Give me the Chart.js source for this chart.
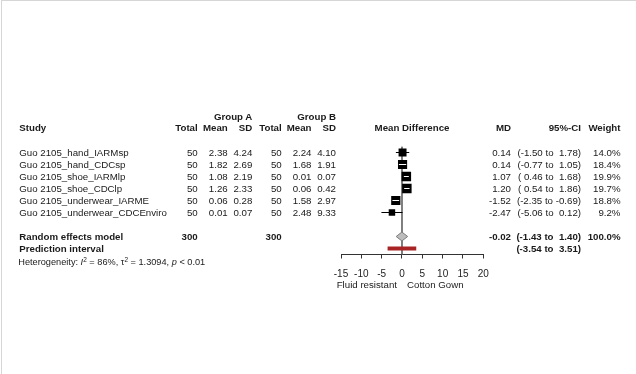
<!DOCTYPE html>
<html>
<head>
<meta charset="utf-8">
<script src="https://cdn.jsdelivr.net/npm/chart.js@4"></script>
<style>
  body { margin: 0; background: #fff; }
  #wrap { position: relative; width: 636px; height: 374px; overflow: hidden;
          font-family: "Liberation Sans", Arial, sans-serif; color: #1a1a1a; }
  #frame { position: absolute; left: 1px; top: 0; width: 635px; height: 374px;
           border-top: 1px solid #d6d6d6; border-left: 1px solid #d6d6d6; box-sizing: border-box; }
  canvas { position: absolute; left: 0; top: 0; }
  .t { position: absolute; font-size: 9.7px; line-height: 12px; white-space: pre; }
  .b { font-weight: bold; }
  .het { font-size: 9.2px; }
  sup { font-size: 6.5px; vertical-align: 3px; line-height: 0; }
</style>
</head>
<body>
<div id="wrap">
  <div id="frame"></div>
  <canvas id="forest" width="636" height="374"></canvas>
</div>
<script>
const studies = [
  "Guo 2105_hand_IARMsp",
  "Guo 2105_hand_CDCsp",
  "Guo 2105_shoe_IARMlp",
  "Guo 2105_shoe_CDClp",
  "Guo 2105_underwear_IARME",
  "Guo 2105_underwear_CDCEnviro"
];
const totalA = [50, 50, 50, 50, 50, 50];
const meanA = [2.38, 1.82, 1.08, 1.26, 0.06, 0.01];
const sdA = [4.24, 2.69, 2.19, 2.33, 0.28, 0.07];
const totalB = [50, 50, 50, 50, 50, 50];
const meanB = [2.24, 1.68, 0.01, 0.06, 1.58, 2.48];
const sdB = [4.10, 1.91, 0.07, 0.42, 2.97, 9.33];
const md = [0.14, 0.14, 1.07, 1.20, -1.52, -2.47];
const ciLo = [-1.50, -0.77, 0.46, 0.54, -2.35, -5.06];
const ciHi = [1.78, 1.05, 1.68, 1.86, -0.69, 0.12];
const weights = [14.0, 18.4, 19.9, 19.7, 18.8, 9.2];

// random effects summary + prediction interval
const pooledTotals = [300, 300];
const pooled = { md: -0.02, lo: -1.43, hi: 1.40, weight: 100.0 };
const predict = { lo: -3.54, hi: 3.51 };

const xTicks = [-15, -10, -5, 0, 5, 10, 15, 20];

const SUMMARY_ROW = 7;
const PREDICT_ROW = 8;
const ROW0 = 152.5, ROW_H = 12; // text rows line up with the y scale below
const MAX_SIDE = 9.5;

const wrap = document.getElementById("wrap");

function put(text, x, y, align, cls, html) {
  const el = document.createElement("div");
  el.className = "t " + (cls || "");
  if (html) el.innerHTML = text; else el.textContent = text;
  el.style.top = (y - 6) + "px";
  if (align === "right") el.style.right = (636 - x) + "px";
  else if (align === "center") { el.style.left = x + "px"; el.style.transform = "translateX(-50%)"; }
  else el.style.left = x + "px";
  wrap.appendChild(el);
}

function f2(v) { return v.toFixed(2); }
function pad(v) { return v < 0 ? v.toFixed(2) : " " + v.toFixed(2); }
function ci(lo, hi) { return "(" + pad(lo) + " to " + pad(hi) + ")"; }

// column right edges
const COL = { study: 19.3, totA: 197.7, meanA: 227.7, sdA: 252.3, totB: 281.7,
              meanB: 311.5, sdB: 336, md: 511, ci: 581, w: 620.5 };

// headers
put("Group A", COL.sdA, 116.7, "right", "b");
put("Group B", COL.sdB, 116.7, "right", "b");
const hy = 128.3;
put("Study", COL.study, hy, "left", "b");
put("Total", COL.totA, hy, "right", "b");
put("Mean", COL.meanA, hy, "right", "b");
put("SD", COL.sdA, hy, "right", "b");
put("Total", COL.totB, hy, "right", "b");
put("Mean", COL.meanB, hy, "right", "b");
put("SD", COL.sdB, hy, "right", "b");
put("Mean Difference", 412, hy, "center", "b");
put("MD", COL.md, hy, "right", "b");
put("95%-CI", COL.ci, hy, "right", "b");
put("Weight", COL.w, hy, "right", "b");

studies.forEach((s, i) => {
  const y = ROW0 + ROW_H * i;
  put(s, COL.study, y, "left");
  put(String(totalA[i]), COL.totA, y, "right");
  put(f2(meanA[i]), COL.meanA, y, "right");
  put(f2(sdA[i]), COL.sdA, y, "right");
  put(String(totalB[i]), COL.totB, y, "right");
  put(f2(meanB[i]), COL.meanB, y, "right");
  put(f2(sdB[i]), COL.sdB, y, "right");
  put(f2(md[i]), COL.md, y, "right");
  put(ci(ciLo[i], ciHi[i]), COL.ci, y, "right");
  put(weights[i].toFixed(1) + "%", COL.w, y, "right");
});

const sy = ROW0 + ROW_H * SUMMARY_ROW;
put("Random effects model", COL.study, sy, "left", "b");
put(String(pooledTotals[0]), COL.totA, sy, "right", "b");
put(String(pooledTotals[1]), COL.totB, sy, "right", "b");
put(f2(pooled.md), COL.md, sy, "right", "b");
put(ci(pooled.lo, pooled.hi), COL.ci, sy, "right", "b");
put(pooled.weight.toFixed(1) + "%", COL.w, sy, "right", "b");

const py = ROW0 + ROW_H * PREDICT_ROW;
put("Prediction interval", COL.study, py, "left", "b");
put(ci(predict.lo, predict.hi), COL.ci, py, "right", "b");

put("Heterogeneity: <i>I</i><sup>2</sup> = 86%, τ<sup>2</sup> = 1.3094, <i>p</i> &lt; 0.01",
    18.3, 262.3, "left", "het", true);

put("Fluid resistant", 397, 285, "right");
put("Cotton Gown", 407, 285, "left");

// marks
const maxW = Math.max(...weights);
const sides = weights.map((w) => MAX_SIDE * Math.sqrt(w / maxW));

function ciInside(chart, i) {
  const xs = chart.scales.x;
  const c = xs.getPixelForValue(md[i]);
  const h = sides[i] / 2;
  return xs.getPixelForValue(ciLo[i]) >= c - h && xs.getPixelForValue(ciHi[i]) <= c + h;
}

const datasets = [];

datasets.push({
  data: [{ x: 0, y: -0.5 }, { x: 0, y: 8.5 }],
  showLine: true, borderColor: "#6e6e6e", borderWidth: 1, pointRadius: 0, order: 10
});

studies.forEach((s, i) => {
  datasets.push({
    data: [{ x: ciLo[i], y: i }, { x: ciHi[i], y: i }],
    showLine: true, borderWidth: 1, pointRadius: 0,
    borderColor: (ctx) => ciInside(ctx.chart, i) ? "#ffffff" : "#000000",
    order: 1
  });
});

datasets.push({
  data: studies.map((s, i) => ({ x: md[i], y: i })),
  pointStyle: "rect",
  pointRadius: sides.map((d) => d / (2 * Math.SQRT1_2)),
  pointBorderWidth: 0,
  backgroundColor: "#000000",
  order: 5
});

const dh = 0.37;
datasets.push({
  data: [
    { x: pooled.lo, y: SUMMARY_ROW },
    { x: pooled.md, y: SUMMARY_ROW - dh },
    { x: pooled.hi, y: SUMMARY_ROW },
    { x: pooled.md, y: SUMMARY_ROW + dh },
    { x: pooled.lo, y: SUMMARY_ROW }
  ],
  showLine: true, fill: "shape", tension: 0,
  borderColor: "#7c7c7c", borderWidth: 1, backgroundColor: "#bdbdbd",
  pointRadius: 0, order: 4
});

datasets.push({
  data: [{ x: predict.lo, y: PREDICT_ROW }, { x: predict.hi, y: PREDICT_ROW }],
  showLine: true, borderColor: "#a82424", borderWidth: 4, borderCapStyle: "butt",
  pointRadius: 0, order: 3
});

new Chart(document.getElementById("forest"), {
  type: "scatter",
  data: { datasets },
  options: {
    responsive: false,
    animation: false,
    layout: { padding: { left: 341, right: 152.7, top: 146.5, bottom: 89.5 } },
    plugins: { legend: { display: false }, tooltip: { enabled: false } },
    scales: {
      x: {
        type: "linear",
        position: "bottom",
        min: xTicks[0],
        max: xTicks[xTicks.length - 1],
        afterBuildTicks: (s) => { s.ticks = xTicks.map((v) => ({ value: v })); },
        afterFit: (s) => { s.height = 30; },
        ticks: {
          padding: 10,
          autoSkip: false,
          maxRotation: 0,
          minRotation: 0,
          color: "#222",
          font: { family: "'Liberation Sans', Arial, sans-serif", size: 10 }
        },
        grid: { drawOnChartArea: false, drawTicks: true, tickLength: 4, color: "#333" },
        border: { display: true, color: "#333", width: 1 }
      },
      y: { type: "linear", min: -0.5, max: 8.5, reverse: true, display: false }
    }
  }
});
</script>
</body>
</html>
